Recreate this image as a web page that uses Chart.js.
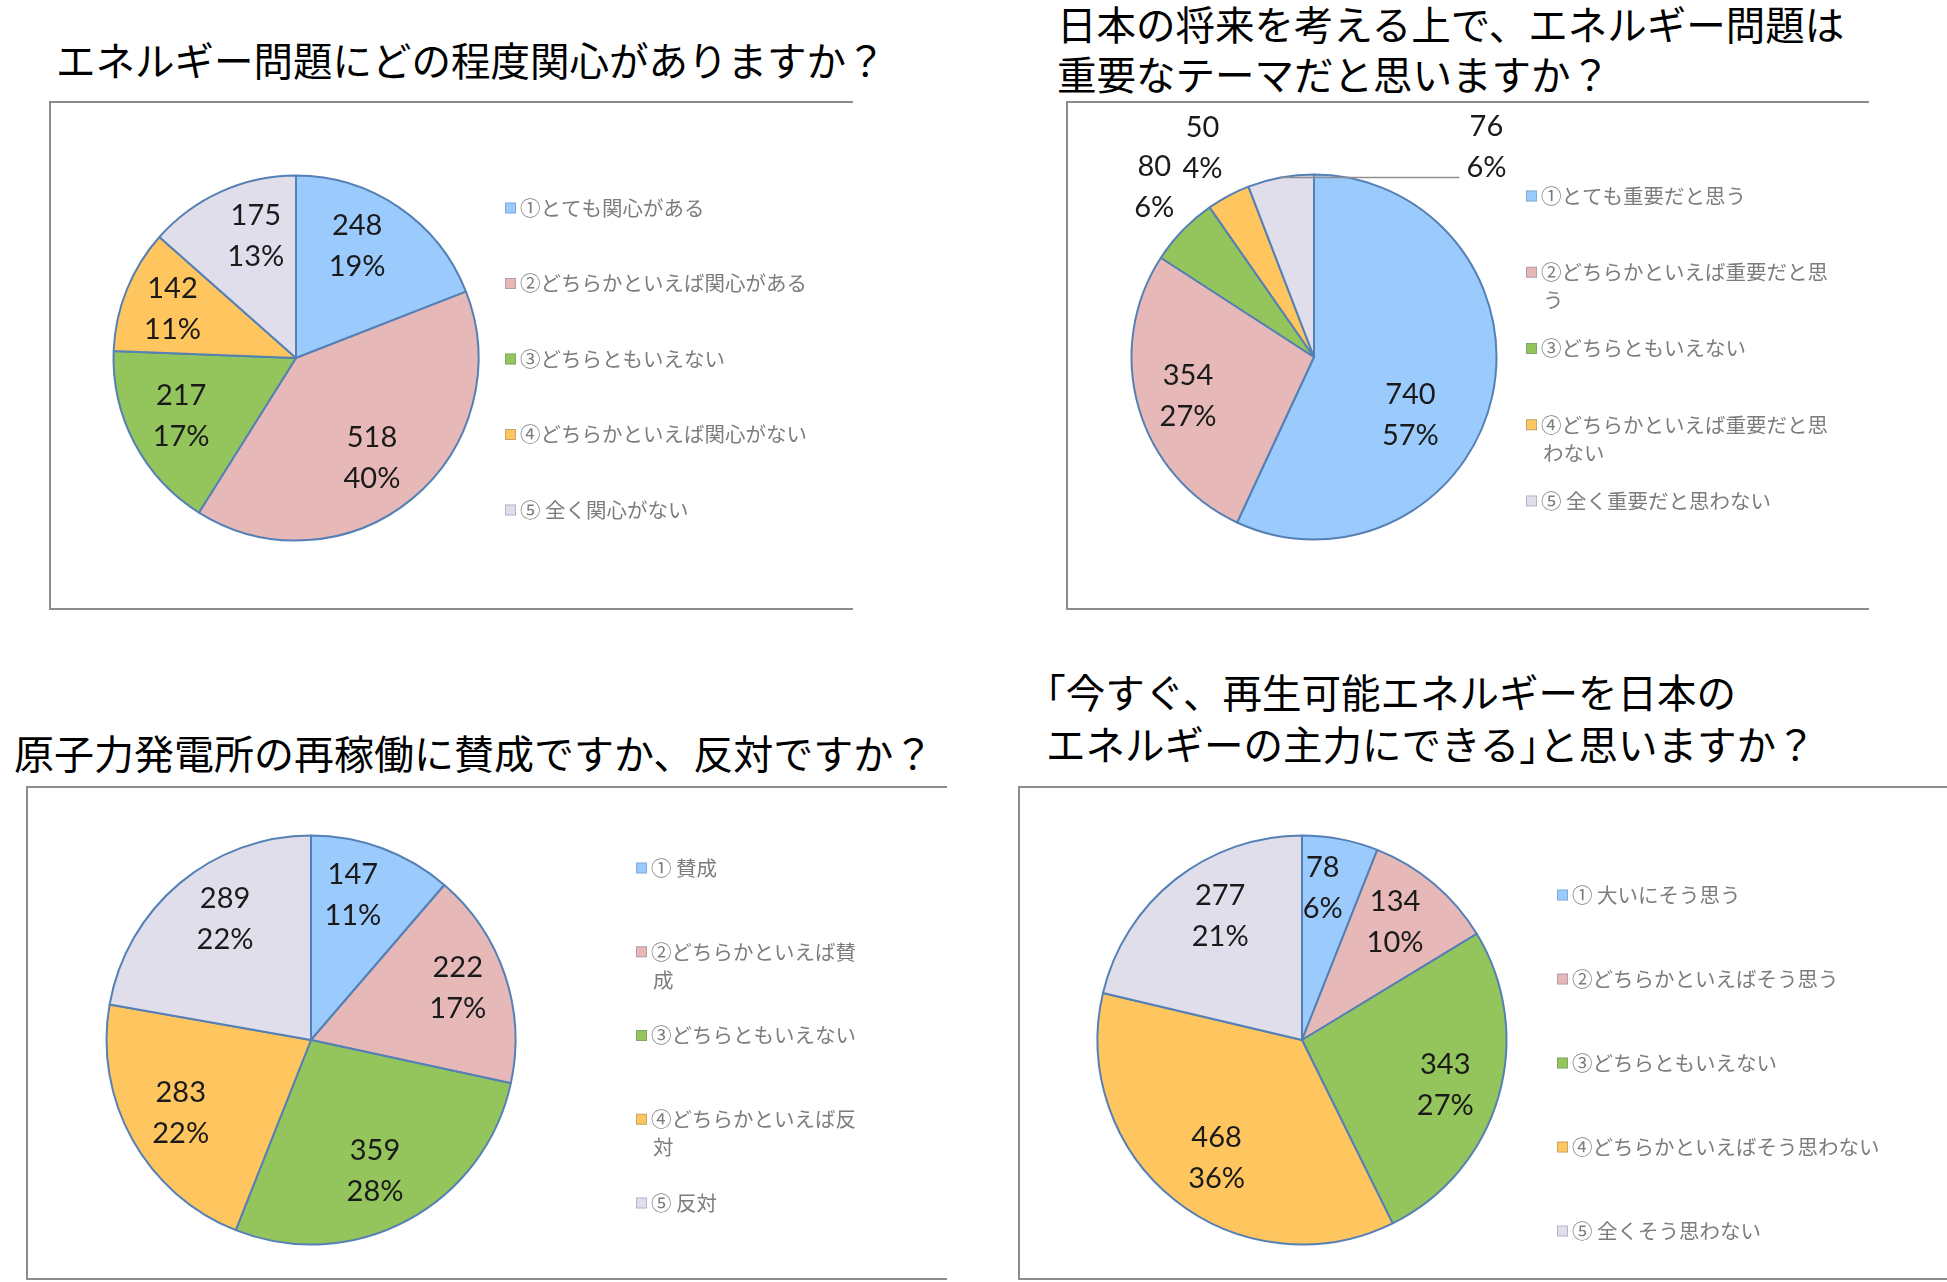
<!DOCTYPE html>
<html>
<head>
<meta charset="utf-8">
<script src="https://cdn.jsdelivr.net/npm/chart.js@4.4.1/dist/chart.umd.min.js"></script>
<style>
  html, body { margin: 0; padding: 0; background: #fff; }
  body { width: 1947px; height: 1282px; position: relative; overflow: hidden; font-family: "Noto Sans CJK JP", "Noto Sans", sans-serif; }
  .title { position: absolute; font-size: 39.5px; line-height: 50px; color: #000; white-space: nowrap; font-weight: 400; }
  .half { font-feature-settings: "halt"; }
  .box { position: absolute; box-sizing: border-box; border-left: 2px solid #8c8c8c; border-top: 2px solid #8c8c8c; border-bottom: 2px solid #8c8c8c; }
  .box canvas { position: absolute; left: -2px; top: -2px; }
</style>
</head>
<body>
<div class="title" style="left:56px;top:34px;">エネルギー問題にどの程度関心がありますか？</div>
<div class="title" style="left:1057px;top:-2px;line-height:50px;">日本の将来を考える上で、エネルギー問題は<br>重要なテーマだと思いますか？</div>
<div class="title" style="left:14px;top:727px;font-size:40px;">原子力発電所の再稼働に賛成ですか、反対ですか？</div>
<div class="title" style="left:1046px;top:665px;line-height:52px;"><span class="half">「</span>今すぐ、再生可能エネルギーを日本の<br>エネルギーの主力にできる<span class="half">」</span>と思いますか？</div>

<div class="box" style="left:49px;top:101px;width:804px;height:509px;"><canvas id="c1" width="804" height="509"></canvas></div>
<div class="box" style="left:1066px;top:101px;width:803px;height:509px;"><canvas id="c2" width="803" height="509"></canvas></div>
<div class="box" style="left:26px;top:786px;width:921px;height:494px;"><canvas id="c3" width="921" height="494"></canvas></div>
<div class="box" style="left:1018px;top:786px;width:929px;height:494px;"><canvas id="c4" width="929" height="494"></canvas></div>

<script>
// ---- Data ----
const sliceColors = ['#9BCBFD', '#E6B9B8', '#93C55C', '#FFC55F', '#E1DEEB'];

const interestLabels = ['①とても関心がある', '②どちらかといえば関心がある', '③どちらともいえない', '④どちらかといえば関心がない', '⑤ 全く関心がない'];
const interestValues = [248, 518, 217, 142, 175];

const importanceLabels = ['①とても重要だと思う', '②どちらかといえば重要だと思う', '③どちらともいえない', '④どちらかといえば重要だと思わない', '⑤ 全く重要だと思わない'];
const importanceValues = [740, 354, 80, 50, 76];

const restartLabels = ['① 賛成', '②どちらかといえば賛成', '③どちらともいえない', '④どちらかといえば反対', '⑤ 反対'];
const restartValues = [147, 222, 359, 283, 289];

const renewableLabels = ['① 大いにそう思う', '②どちらかといえばそう思う', '③どちらともいえない', '④どちらかといえばそう思わない', '⑤ 全くそう思わない'];
const renewableValues = [78, 134, 343, 468, 277];

// Percentages rounded to total 100 (largest remainder, as the spreadsheet does)
function percentLabels(values) {
  const total = values.reduce((a, b) => a + b, 0);
  const raw = values.map(v => v / total * 100);
  const fl = raw.map(Math.floor);
  const left = 100 - fl.reduce((a, b) => a + b, 0);
  const order = raw.map((r, i) => [r - Math.floor(r), i]).sort((a, b) => b[0] - a[0]);
  for (let k = 0; k < left; k++) fl[order[k][1]]++;
  return fl.map(p => p + '%');
}

// ---- Plugins ----
const pieLabelsPlugin = {
  id: 'pieLabels',
  afterDatasetsDraw(chart, args, opts) {
    const ctx = chart.ctx;
    const meta = chart.getDatasetMeta(0);
    const values = chart.data.datasets[0].data;
    const pcts = percentLabels(values);
    const ov = opts.overrides || {};
    ctx.save();
    ctx.font = opts.font;
    ctx.fillStyle = opts.color;
    ctx.textAlign = 'center';
    ctx.textBaseline = 'middle';
    meta.data.forEach((arc, i) => {
      const p = arc.getProps(['x', 'y', 'startAngle', 'endAngle', 'outerRadius'], true);
      const o = ov[i] || {};
      const mid = (p.startAngle + p.endAngle) / 2;
      const ang = o.angle !== undefined ? (o.angle - 90) * Math.PI / 180 : mid;
      const rf = o.radius !== undefined ? o.radius : opts.radius;
      const lx = p.x + Math.cos(ang) * p.outerRadius * rf;
      const ly = p.y + Math.sin(ang) * p.outerRadius * rf + opts.yShift;
      if (o.leader) {
        ctx.save();
        ctx.strokeStyle = '#8f8f8f';
        ctx.lineWidth = 1.5;
        ctx.beginPath();
        ctx.moveTo(p.x + Math.cos(mid) * p.outerRadius, p.y + Math.sin(mid) * p.outerRadius);
        ctx.lineTo(lx + o.leader[0], ly + o.leader[1]);
        ctx.stroke();
        ctx.restore();
      }
      ctx.fillText(String(values[i]), lx, ly - opts.lineHeight / 2);
      ctx.fillText(pcts[i], lx, ly + opts.lineHeight / 2);
    });
    ctx.restore();
  }
};

const sideLegendPlugin = {
  id: 'sideLegend',
  afterDraw(chart, args, opts) {
    const ctx = chart.ctx;
    const labels = chart.data.labels;
    const colors = chart.data.datasets[0].backgroundColor;
    ctx.save();
    ctx.font = opts.font;
    ctx.textBaseline = 'middle';
    ctx.textAlign = 'left';
    labels.forEach((lab, i) => {
      const y = opts.y + i * opts.gap;
      const lines = [];
      let cur = '';
      for (const ch of lab) {
        if (cur && ctx.measureText(cur + ch).width > opts.maxWidth) { lines.push(cur); cur = ch; }
        else cur += ch;
      }
      lines.push(cur);
      const s = opts.box;
      ctx.fillStyle = colors[i];
      ctx.fillRect(opts.x, y - s / 2, s, s);
      ctx.strokeStyle = 'rgba(90,110,140,0.35)';
      ctx.lineWidth = 1;
      ctx.strokeRect(opts.x + 0.5, y - s / 2 + 0.5, s - 1, s - 1);
      ctx.fillStyle = opts.color;
      lines.forEach((ln, k) => {
        const tx = opts.x + s + 4 + (k === 0 ? 0 : opts.indent);
        ctx.fillText(ln, tx, y + k * opts.lineGap);
      });
    });
    ctx.restore();
  }
};

function makePie(id, labels, values, pad, labelOpts, legendOpts) {
  return new Chart(document.getElementById(id), {
    type: 'pie',
    data: {
      labels: labels,
      datasets: [{
        data: values,
        backgroundColor: sliceColors,
        borderColor: '#5580B5',
        borderWidth: 2
      }]
    },
    options: {
      responsive: false,
      animation: false,
      devicePixelRatio: 1,
      layout: { padding: pad },
      plugins: {
        legend: { display: false },
        tooltip: { enabled: false },
        title: { display: false },
        pieLabels: Object.assign({ font: '29px Lato', color: '#1a1a1a', lineHeight: 41, yShift: -4 }, labelOpts),
        sideLegend: Object.assign({ font: '20.5px "Noto Sans CJK JP"', color: '#7c7c7c', box: 11, lineGap: 28, indent: 2, maxWidth: 400 }, legendOpts)
      }
    },
    plugins: [pieLabelsPlugin, sideLegendPlugin]
  });
}

makePie('c1', interestLabels, interestValues,
  { left: 63.5, top: 73.5, right: 373.5, bottom: 68.5 },
  { radius: 0.70, overrides: {
      0: { angle: 29.5, radius: 0.68 },
      1: { angle: 143.8, radius: 0.705 },
      2: { angle: 241.7, radius: 0.715 },
      3: { angle: 290, radius: 0.72 },
      4: { angle: 341.1, radius: 0.68 }
  } },
  { x: 456, y: 107, gap: 75.5 });

makePie('c2', importanceLabels, importanceValues,
  { left: 64.5, top: 72.5, right: 371.5, bottom: 69.5 },
  { radius: 0.72, overrides: {
      0: { angle: 123, radius: 0.63 },
      1: { angle: 251, radius: 0.73 },
      2: { angle: 316, radius: 1.26 },
      3: { angle: 331.5, radius: 1.28 },
      4: { angle: 40, radius: 1.47, leader: [-27, 30] }
  } },
  { x: 460, y: 95, gap: 76.25, maxWidth: 295 });

makePie('c3', restartLabels, restartValues,
  { left: 79.5, top: 48.5, right: 430.5, bottom: 34.5 },
  { radius: 0.73, overrides: {
      0: { angle: 16.5, radius: 0.72 },
      1: { angle: 71.9, radius: 0.755 },
      2: { angle: 154.6, radius: 0.73 },
      3: { angle: 239.4, radius: 0.74 },
      4: { angle: 323.7, radius: 0.71 }
  } },
  { x: 610, y: 82, gap: 83.75, maxWidth: 215 });

makePie('c4', renewableLabels, renewableValues,
  { left: 78.5, top: 48.5, right: 439.5, bottom: 34.5 },
  { radius: 0.72, overrides: {
      0: { angle: 8, radius: 0.73 },
      1: { angle: 39.2, radius: 0.72 },
      2: { angle: 108.8, radius: 0.74 },
      3: { angle: 214.9, radius: 0.73 },
      4: { angle: 325.7, radius: 0.71 }
  } },
  { x: 539, y: 109, gap: 84 });
</script>
</body>
</html>
